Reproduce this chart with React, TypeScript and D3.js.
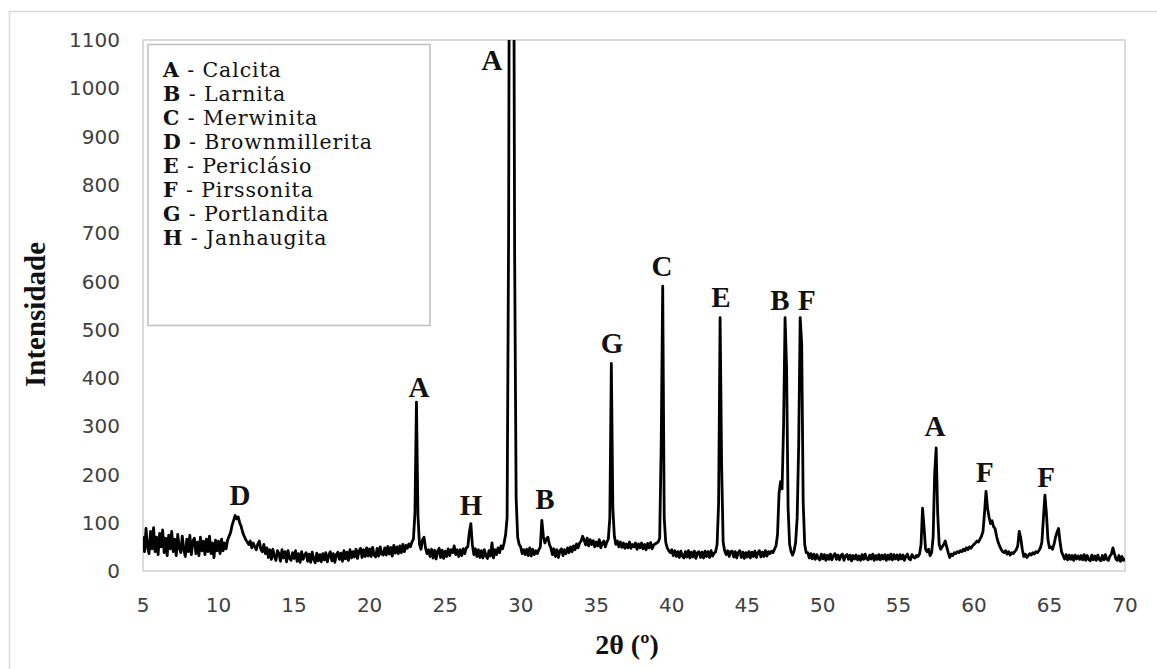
import React from "react";
import * as d3 from "d3";

// XRD scan: 2θ from 5° to 70°, step 0.1°
const twoThetaStart = 5;
const twoThetaStep = 0.1;
const intensity: number[] = [
  /* 5 */ 72, 40, 88, 50, 36, 82, 46, 90, 40, 70,
  /* 6 */ 34, 78, 50, 85, 38, 68, 32, 74, 46, 82,
  /* 7 */ 40, 66, 32, 76, 48, 38, 72, 44, 30, 66,
  /* 8 */ 40, 74, 34, 62, 68, 36, 60, 32, 70, 42,
  /* 9 */ 62, 34, 66, 40, 72, 36, 58, 28, 64, 42,
  /* 10 */ 62, 36, 66, 42, 58, 46, 64, 72, 80, 95,
  /* 11 */ 105, 115, 108, 112, 100, 92, 80, 72, 65, 60,
  /* 12 */ 55, 62, 48, 58, 50, 44, 56, 62, 45, 40,
  /* 13 */ 55, 36, 48, 28, 44, 24, 45, 30, 22, 42,
  /* 14 */ 36, 20, 44, 27, 40, 19, 42, 26, 22, 38,
  /* 15 */ 26, 42, 20, 36, 18, 40, 24, 33, 38, 20,
  /* 16 */ 35, 18, 39, 24, 17, 37, 21, 34, 19, 36,
  /* 17 */ 23, 38, 19, 33, 40, 21, 36, 18, 34, 39,
  /* 18 */ 24, 37, 20, 42, 25, 39, 22, 44, 27, 40,
  /* 19 */ 29, 45, 26, 42, 47, 28, 44, 30, 48, 31,
  /* 20 */ 46, 30, 49, 33, 29, 47, 31, 50, 35, 33,
  /* 21 */ 48, 33, 51, 35, 49, 31, 53, 37, 50, 36,
  /* 22 */ 52, 38, 55, 40, 53, 47, 56, 50, 60, 66,
  /* 23 */ 120, 350, 115, 55, 45, 65, 70, 48, 36, 44,
  /* 24 */ 30, 45, 27, 43, 25, 41, 47, 28, 43, 26,
  /* 25 */ 41, 30, 46, 32, 44, 38, 52, 34, 44, 30,
  /* 26 */ 44, 32, 46, 36, 48, 50, 80, 98, 55, 34,
  /* 27 */ 46, 30, 44, 28, 42, 27, 44, 32, 26, 42,
  /* 28 */ 31, 58, 27, 44, 34, 48, 38, 52, 46, 58,
  /* 29 */ 75, 110, 700, 2000, 2600, 1800, 650, 150, 70, 55,
  /* 30 */ 50, 36, 44, 34, 45, 32, 48, 31, 45, 34,
  /* 31 */ 42, 36, 44, 50, 105, 72, 58, 66, 70, 55,
  /* 32 */ 48, 34, 46, 30, 44, 28, 42, 46, 32, 44,
  /* 33 */ 36, 48, 38, 50, 40, 52, 44, 56, 48, 58,
  /* 34 */ 62, 72, 64, 54, 68, 52, 65, 55, 63, 50,
  /* 35 */ 60, 52, 65, 48, 58, 62, 50, 60, 66, 110,
  /* 36 */ 430, 130, 72, 55, 62, 50, 60, 49, 58, 47,
  /* 37 */ 56, 48, 60, 47, 55, 50, 58, 45, 56, 48,
  /* 38 */ 58, 46, 55, 44, 57, 48, 59, 46, 54, 56,
  /* 39 */ 58, 60, 68, 260, 590, 110, 60, 48, 42, 38,
  /* 40 */ 44, 32, 42, 30, 40, 28, 41, 31, 27, 40,
  /* 41 */ 29, 42, 27, 39, 29, 41, 26, 38, 40, 28,
  /* 42 */ 39, 27, 41, 30, 40, 28, 42, 31, 37, 40,
  /* 43 */ 55, 140, 525, 220, 60, 42, 34, 42, 30, 40,
  /* 44 */ 41, 29, 40, 27, 38, 42, 28, 39, 26, 38,
  /* 45 */ 29, 40, 27, 39, 30, 41, 28, 38, 42, 29,
  /* 46 */ 39, 30, 42, 31, 40, 36, 41, 38, 45, 52,
  /* 47 */ 75, 160, 185, 170, 300, 525, 420, 130, 55, 40,
  /* 48 */ 33, 42, 60, 110, 260, 525, 470, 140, 55, 38,
  /* 49 */ 38, 27, 36, 25, 35, 24, 34, 26, 23, 35,
  /* 50 */ 25, 34, 22, 33, 24, 35, 23, 32, 36, 24,
  /* 51 */ 33, 23, 32, 35, 22, 31, 34, 24, 33, 21,
  /* 52 */ 32, 25, 33, 23, 31, 22, 34, 24, 35, 25,
  /* 53 */ 23, 33, 25, 35, 22, 32, 24, 34, 23, 33,
  /* 54 */ 25, 34, 22, 33, 24, 35, 23, 34, 25, 33,
  /* 55 */ 23, 34, 25, 33, 22, 31, 35, 25, 23, 34,
  /* 56 */ 29, 27, 32, 30, 35, 55, 130, 90, 45, 40,
  /* 57 */ 45, 32, 38, 70, 200, 255, 120, 55, 45, 50,
  /* 58 */ 55, 62, 50, 38, 28, 35, 32, 38, 36, 40,
  /* 59 */ 38, 42, 40, 45, 42, 48, 44, 50, 47, 52,
  /* 60 */ 55, 58, 62, 60, 66, 72, 82, 120, 165, 130,
  /* 61 */ 112, 98, 104, 92, 88, 72, 60, 52, 45, 40,
  /* 62 */ 38, 42, 35, 40, 33, 38, 36, 40, 44, 52,
  /* 63 */ 82, 68, 45, 30, 35, 28, 32, 36, 33, 38,
  /* 64 */ 35, 40, 38, 42, 48, 60, 110, 157, 118, 65,
  /* 65 */ 48, 50, 45, 55, 70, 80, 88, 60, 40, 32,
  /* 66 */ 25, 34, 23, 33, 24, 32, 22, 33, 25, 31,
  /* 67 */ 24, 32, 23, 34, 22, 32, 24, 21, 33, 23,
  /* 68 */ 31, 22, 33, 24, 21, 32, 23, 34, 24, 22,
  /* 69 */ 31, 35, 48, 36, 25, 22, 32, 20, 30, 22,
  /* 70 */ 26,
];

const xTicks = [5, 10, 15, 20, 25, 30, 35, 40, 45, 50, 55, 60, 65, 70];
const yTicks = [0, 100, 200, 300, 400, 500, 600, 700, 800, 900, 1000, 1100];

const legendLetters = ["A", "B", "C", "D", "E", "F", "G", "H"];
const legendNames = [
  "Calcita",
  "Larnita",
  "Merwinita",
  "Brownmillerita",
  "Periclásio",
  "Pirssonita",
  "Portlandita",
  "Janhaugita",
];

// Peak annotations: letter, 2θ of label centre, intensity at label baseline
const peakLetters = ["D", "A", "H", "A", "B", "G", "C", "E", "B", "F", "A", "F", "F"];
const peakTheta = [11.42, 23.27, 26.71, 28.1, 31.6, 36.04, 39.35, 43.26, 47.16, 48.95, 57.42, 60.73, 64.77];
const peakLabelY = [137, 360, 116, 1038, 128, 452, 611, 547, 541, 541, 280, 184, 174];

export default function App() {
  const W = 1157;
  const H = 669;
  const left = 143, right = 1125, top = 40, bottom = 571;
  const x = d3.scaleLinear().domain([5, 70]).range([left, right]);
  const y = d3.scaleLinear().domain([0, 1100]).range([bottom, top]);

  const points: [number, number][] = intensity.map((v, i) => [
    twoThetaStart + i * twoThetaStep,
    v,
  ]);
  const line = d3
    .line<[number, number]>()
    .x((d) => x(d[0]))
    .y((d) => y(d[1]));

  const serif = "'Liberation Serif', 'Times New Roman', serif";
  const legendSerif = "'DejaVu Serif', 'Liberation Serif', serif";
  const sans = "'DejaVu Sans', Verdana, sans-serif";

  return (
    <svg
      width={W}
      height={H}
      viewBox={`0 0 ${W} ${H}`}
      style={{ position: "absolute", left: 0, top: 0, background: "#fff" }}
    >
      <defs>
        <clipPath id="plotClip">
          <rect x={left} y={top} width={right - left} height={bottom - top} />
        </clipPath>
      </defs>
      <rect x={0} y={0} width={W} height={H} fill="#fff" />
      {/* outer chart border */}
      <rect x={9.5} y={11.5} width={1170} height={680} fill="none" stroke="#d9d9d9" strokeWidth={1.5} />
      {/* plot area border */}
      <rect
        x={left}
        y={top}
        width={right - left}
        height={bottom - top}
        fill="none"
        stroke="#d0d0d0"
        strokeWidth={1.5}
      />

      {/* y tick labels */}
      {yTicks.map((t) => (
        <text
          key={"y" + t}
          x={120}
          y={y(t)}
          dy="0.36em"
          textAnchor="end"
          fontFamily={sans}
          fontSize={20}
          fill="#404040"
        >
          {t}
        </text>
      ))}
      {/* x tick labels */}
      {xTicks.map((t) => (
        <text
          key={"x" + t}
          x={x(t)}
          y={612}
          textAnchor="middle"
          fontFamily={sans}
          fontSize={20}
          fill="#404040"
        >
          {t}
        </text>
      ))}

      {/* axis titles */}
      <text
        x={627}
        y={654}
        textAnchor="middle"
        fontFamily={serif}
        fontWeight="bold"
        fontSize={28}
        fill="#111"
      >
        2θ (º)
      </text>
      <text
        transform={`translate(45, ${(top + bottom) / 2 + 9}) rotate(-90)`}
        textAnchor="middle"
        fontFamily={serif}
        fontWeight="bold"
        fontSize={29}
        fill="#111"
      >
        Intensidade
      </text>

      {/* data */}
      <g clipPath="url(#plotClip)">
        <path
          d={line(points) || ""}
          fill="none"
          stroke="#000"
          strokeWidth={2.8}
          strokeLinejoin="round"
        />
      </g>

      {/* peak labels */}
      {peakLetters.map((l, i) => (
        <text
          key={"p" + i}
          x={x(peakTheta[i])}
          y={y(peakLabelY[i])}
          textAnchor="middle"
          fontFamily={serif}
          fontWeight="bold"
          fontSize={29}
          fill="#111"
        >
          {l}
        </text>
      ))}

      {/* legend */}
      <rect x={148} y={44.5} width={282} height={281} fill="#fff" stroke="#bfbfbf" strokeWidth={1.5} />
      {legendLetters.map((l, i) => (
        <text
          key={"l" + i}
          x={163}
          y={77 + i * 24}
          fontFamily={legendSerif}
          fontSize={20.5}
          letterSpacing={0.9}
          fill="#111"
        >
          <tspan fontWeight="bold">{l}</tspan>
          <tspan>{" - " + legendNames[i]}</tspan>
        </text>
      ))}
    </svg>
  );
}
